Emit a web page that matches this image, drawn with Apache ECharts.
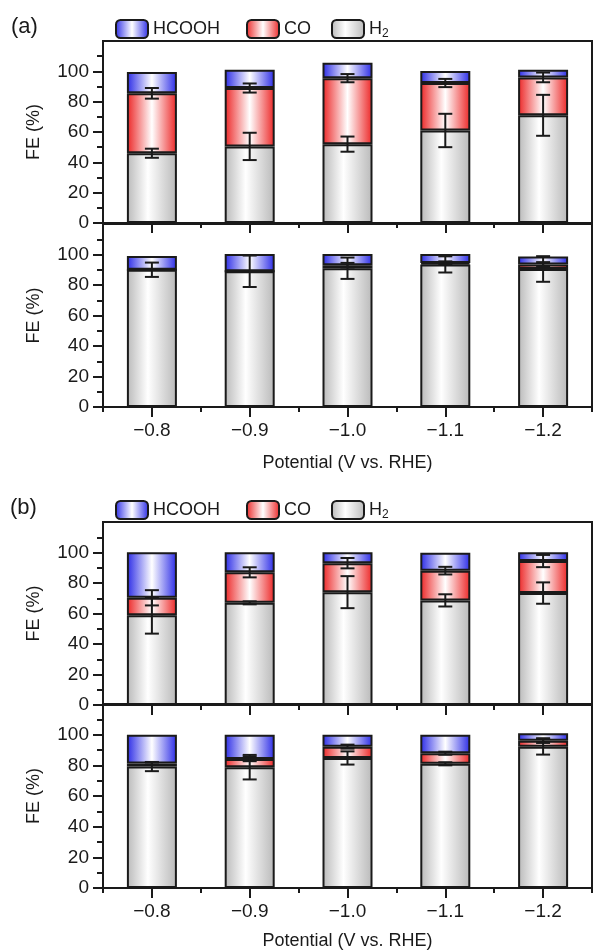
<!DOCTYPE html>
<html><head><meta charset="utf-8">
<script src="https://cdn.jsdelivr.net/npm/echarts@6/dist/echarts.min.js"></script>
<style>html,body{margin:0;padding:0;background:#fff}#c{width:593px;height:951px}</style>
</head><body><div id="c"></div>
<script>
// ---------- data ----------
const categories = ['\u22120.8', '\u22120.9', '\u22121.0', '\u22121.1', '\u22121.2'];
const yTickValues = [0, 20, 40, 60, 80, 100];
const seriesNames = ['HCOOH', 'CO', 'H2'];

// panel (a) upper
const a1_H2 = [46, 50.5, 52, 61, 71];
const a1_CO = [39.5, 38.5, 43.5, 31.3, 25];
const a1_HCOOH = [14, 12, 10.2, 8, 5];
const a1_errH2 = [3, 9, 5, 11, 13.5];
const a1_errCO = [3.5, 3, 2.7, 2.7, 3.2];

// panel (a) lower
const a2_H2 = [90, 89, 91, 93.5, 90.5];
const a2_CO = [0, 0, 2, 1, 3];
const a2_HCOOH = [9, 11.4, 7.4, 5.9, 5.2];
const a2_errH2 = [4.7, 10.3, 7, 5.3, 8.4];
const a2_errCO = [0, 0, 1.5, 1, 1.5];

// panel (b) upper
const b1_H2 = [58.8, 67, 74, 68.6, 73.4];
const b1_CO = [11.5, 20, 19, 19.5, 21];
const b1_HCOOH = [29.9, 13.2, 7.2, 11.7, 5.8];
const b1_errH2 = [12, 1, 10.5, 4, 7];
const b1_errCO = [5, 3.3, 3.4, 2.5, 4];

// panel (b) lower
const b2_H2 = [79.2, 78.8, 84.8, 81, 92.2];
const b2_CO = [2, 5.4, 7.4, 6.9, 3.9];
const b2_HCOOH = [18.8, 15.8, 7.8, 12.1, 4.8];
const b2_errH2 = [3, 8, 4.3, 1, 5.2];
const b2_errCO = [0.8, 1.5, 1.3, 1, 1.5];

// ---------- styles ----------
const FONT = '"Liberation Sans", Arial, Helvetica, sans-serif';
const INK = '#1a1a1a';
function grad(c, mid) {
  return new echarts.graphic.LinearGradient(0, 0, 1, 0, [
    { offset: 0, color: c }, { offset: mid, color: '#ffffff' }, { offset: 1, color: c }
  ]);
}
const fills = {
  HCOOH: grad('#2a2ae6', 0.5),
  CO: grad('#ec2525', 0.5),
  H2: grad('#b9b9b9', 0.42)
};

const panels = [
  { top: 41, height: 182, H2: a1_H2, CO: a1_CO, HCOOH: a1_HCOOH, eH2: a1_errH2, eCO: a1_errCO, labels: false },
  { top: 224, height: 183, H2: a2_H2, CO: a2_CO, HCOOH: a2_HCOOH, eH2: a2_errH2, eCO: a2_errCO, labels: true, nameGap: 47 },
  { top: 522, height: 183, H2: b1_H2, CO: b1_CO, HCOOH: b1_HCOOH, eH2: b1_errH2, eCO: b1_errCO, labels: false },
  { top: 704, height: 184, H2: b2_H2, CO: b2_CO, HCOOH: b2_HCOOH, eH2: b2_errH2, eCO: b2_errCO, labels: true, nameGap: 44 }
];

const grid = [], xAxis = [], yAxis = [], series = [];
panels.forEach((p, gi) => {
  grid.push({ left: 103, top: p.top, width: 489, height: p.height, show: true,
    borderColor: INK, borderWidth: 2, backgroundColor: 'transparent' });
  xAxis.push({
    gridIndex: gi, type: 'category', data: categories, position: 'bottom',
    axisLine: { show: true, lineStyle: { color: INK, width: 2 } },
    axisTick: { show: true, alignWithLabel: true, length: 10, lineStyle: { color: INK, width: 2 } },
    axisLabel: { show: p.labels, fontSize: 19, color: INK, fontFamily: FONT, margin: 14 },
    name: p.labels ? 'Potential (V vs. RHE)' : '', nameLocation: 'middle', nameGap: p.nameGap || 40,
    nameTextStyle: { fontSize: 18, color: INK, fontFamily: FONT },
    splitLine: { show: false }
  });
  xAxis.push({
    gridIndex: gi, type: 'category', data: categories, position: 'bottom',
    axisLine: { show: false },
    axisTick: { show: true, alignWithLabel: false, length: 5, lineStyle: { color: INK, width: 2 } },
    axisLabel: { show: false }, splitLine: { show: false }
  });
  yAxis.push({
    gridIndex: gi, type: 'value', min: 0, max: 120, interval: 20,
    axisLine: { show: true, lineStyle: { color: INK, width: 2 } },
    axisTick: { show: true, length: 10, lineStyle: { color: INK, width: 2 }, customValues: yTickValues },
    minorTick: { show: true, splitNumber: 2, length: 6, lineStyle: { color: INK, width: 2 } },
    axisLabel: { fontSize: 19, color: INK, fontFamily: FONT, margin: 14, customValues: yTickValues },
    splitLine: { show: false }, minorSplitLine: { show: false },
    name: 'FE (%)', nameLocation: 'middle', nameGap: 60,
    nameTextStyle: { fontSize: 18, color: INK, fontFamily: FONT }
  });
  ['H2', 'CO', 'HCOOH'].forEach(n => {
    series.push({
      name: n, type: 'bar', xAxisIndex: gi * 2, yAxisIndex: gi, stack: 's' + gi,
      barWidth: 50, data: p[n],
      itemStyle: { color: fills[n], borderColor: INK, borderWidth: 2 },
      emphasis: { disabled: true }, animation: false, z: 2
    });
  });
  // error bars: centred on the cumulative top of each segment
  const errData = [];
  categories.forEach((c, i) => {
    errData.push([i, p.H2[i], p.eH2[i]]);
    errData.push([i, p.H2[i] + p.CO[i], p.eCO[i]]);
  });
  series.push({
    type: 'custom', xAxisIndex: gi * 2, yAxisIndex: gi, z: 10, animation: false,
    encode: { x: 0, y: 1 }, data: errData,
    renderItem(params, api) {
      const x = api.value(0), c = api.value(1), e = api.value(2);
      if (!e) return null;
      const t = api.coord([x, c + e]), b = api.coord([x, c - e]);
      const hw = 7, st = { stroke: INK, lineWidth: 2 };
      return { type: 'group', children: [
        { type: 'line', shape: { x1: t[0], y1: t[1], x2: b[0], y2: b[1] }, style: st },
        { type: 'line', shape: { x1: t[0] - hw, y1: t[1], x2: t[0] + hw, y2: t[1] }, style: st },
        { type: 'line', shape: { x1: b[0] - hw, y1: b[1], x2: b[0] + hw, y2: b[1] }, style: st }
      ] };
    }
  });
});

function legendItem(name, left, top) {
  return {
    data: [name], left: left, top: top, icon: 'roundRect', itemWidth: 32, itemHeight: 18,
    selectedMode: false,
    itemStyle: { borderColor: INK, borderWidth: 2 },
    formatter: n => n === 'H2' ? '{n|H}{sub|2}' : '{n|' + n + '}',
    textStyle: { fontSize: 18, color: INK, fontFamily: FONT,
      rich: { n: { fontSize: 18, color: INK, fontFamily: FONT },
              sub: { fontSize: 12, color: INK, fontFamily: FONT, padding: [9, 0, 0, 0] } } }
  };
}
const legend = [
  legendItem('HCOOH', 110, 14), legendItem('CO', 241, 14), legendItem('H2', 326, 14),
  legendItem('HCOOH', 110, 495), legendItem('CO', 241, 495), legendItem('H2', 326, 495)
];

const chart = echarts.init(document.getElementById('c'), null, { renderer: 'canvas' });
chart.setOption({
  animation: false,
  backgroundColor: '#fff',
  textStyle: { fontFamily: FONT },
  grid, xAxis, yAxis, series, legend,
  graphic: [
    { type: 'text', left: 11, top: 16, style: { text: '(a)', fontSize: 22, fill: INK, font: '22px ' + FONT } },
    { type: 'text', left: 10, top: 497, style: { text: '(b)', fontSize: 22, fill: INK, font: '22px ' + FONT } }
  ]
});
</script></body></html>
